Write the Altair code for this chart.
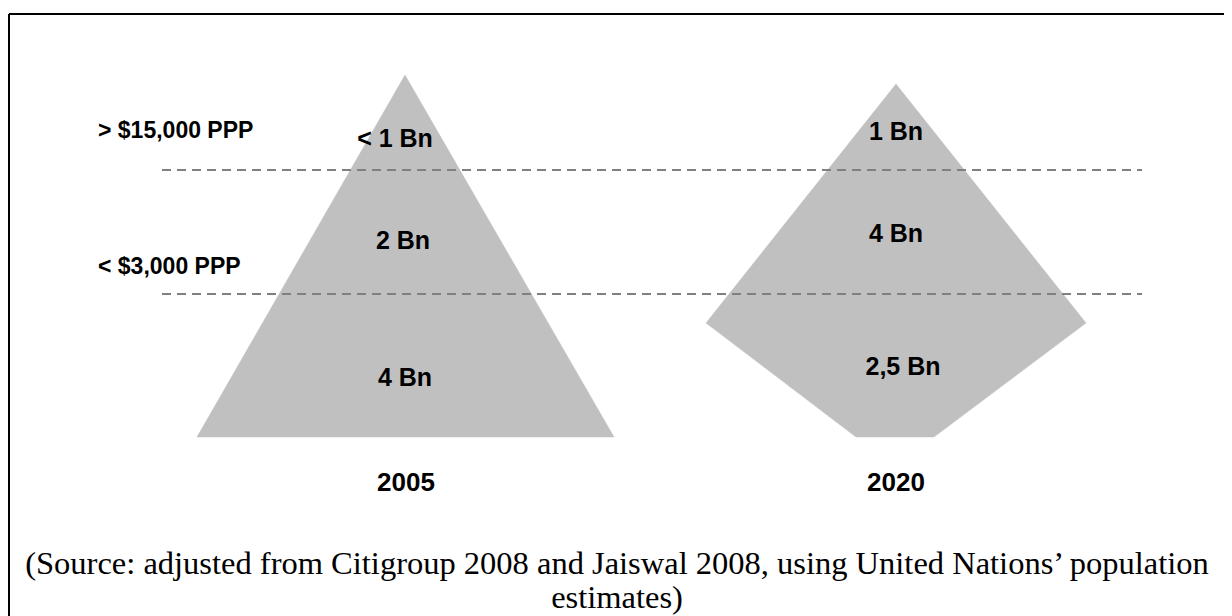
import altair as alt
import pandas as pd

# ---- data (diagram units) ----
shape_names = ["2005", "2005", "2005", "2020", "2020", "2020", "2020", "2020"]
shape_order = [0, 1, 2, 0, 1, 2, 3, 4]
shape_x = [197, 405, 614, 706, 896, 1086, 934, 856]
shape_y = [437, 75, 437, 323, 84, 323, 437, 437]

threshold_y = [170, 294]
threshold_x_start = 162
threshold_x_end = 1142

income_labels = ["> $15,000 PPP", "< $3,000 PPP"]
income_x = [98, 98]
income_y = [131, 267]

pop_labels = ["< 1 Bn", "2 Bn", "4 Bn", "1 Bn", "4 Bn", "2,5 Bn"]
pop_x = [395, 403, 405, 896, 896, 903]
pop_y = [139, 241, 378, 132, 234, 367]

years = ["2005", "2020"]
year_x = [406, 896]
year_y = [483, 483]

caption_lines = [
    "(Source: adjusted from Citigroup 2008 and Jaiswal 2008, using United Nations\u2019 population",
    "estimates)",
]
caption_x = [617, 617]
caption_y = [564, 598]

# ---- frame ----
W, H = 1216, 608
X0, Y0 = 8, 8
xs = alt.Scale(domain=[X0, X0 + W], nice=False, zero=False)
ys = alt.Scale(domain=[Y0, Y0 + H], nice=False, zero=False, reverse=True)

shapes_df = pd.DataFrame({"shape": shape_names, "order": shape_order, "x": shape_x, "y": shape_y})
thr_df = pd.DataFrame({"y": threshold_y, "x": [threshold_x_start] * 2, "x2": [threshold_x_end] * 2})
inc_df = pd.DataFrame({"label": income_labels, "x": income_x, "y": income_y})
pop_df = pd.DataFrame({"label": pop_labels, "x": pop_x, "y": pop_y})
year_df = pd.DataFrame({"label": years, "x": year_x, "y": year_y})
cap_df = pd.DataFrame({"label": caption_lines, "x": caption_x, "y": caption_y})
border_v = pd.DataFrame({"x": [9], "y": [14], "y2": [Y0 + H]})
border_h = pd.DataFrame({"y": [14], "x": [9], "x2": [X0 + W]})

X = lambda f="x": alt.X(f"{f}:Q", scale=xs, axis=None)
Y = lambda f="y": alt.Y(f"{f}:Q", scale=ys, axis=None)

shapes = alt.Chart(shapes_df).mark_line(
    fill="#c0c0c0", stroke="#c0c0c0", strokeWidth=0.5, interpolate="linear-closed"
).encode(x=X(), y=Y(), detail="shape:N", order=alt.Order("order:Q"))

thresholds = alt.Chart(thr_df).mark_rule(
    color="#808080", strokeWidth=2, strokeDash=[9, 6]
).encode(x=X(), x2="x2:Q", y=Y())

bv = alt.Chart(border_v).mark_rule(color="black", strokeWidth=2).encode(x=X(), y=Y(), y2="y2:Q")
bh = alt.Chart(border_h).mark_rule(color="black", strokeWidth=2).encode(x=X(), x2="x2:Q", y=Y())

inc = alt.Chart(inc_df).mark_text(
    font="Liberation Sans", fontWeight="bold", fontSize=23, align="left", baseline="middle", color="black"
).encode(x=X(), y=Y(), text="label:N")

pop = alt.Chart(pop_df).mark_text(
    font="Liberation Sans", fontWeight="bold", fontSize=25, align="center", baseline="middle", color="black"
).encode(x=X(), y=Y(), text="label:N")

yr = alt.Chart(year_df).mark_text(
    font="Liberation Sans", fontWeight="bold", fontSize=26, align="center", baseline="middle", color="black"
).encode(x=X(), y=Y(), text="label:N")

cap = alt.Chart(cap_df).mark_text(
    font="Liberation Serif", fontSize=32.5, align="center", baseline="middle", color="black"
).encode(x=X(), y=Y(), text="label:N")

chart = alt.layer(shapes, thresholds, bv, bh, inc, pop, yr, cap).properties(
    width=W, height=H, padding=0, autosize=alt.AutoSizeParams(type="none"), background="white"
).configure_view(stroke=None)

chart.save("out.html", embed_options={"renderer": "svg", "actions": False})
